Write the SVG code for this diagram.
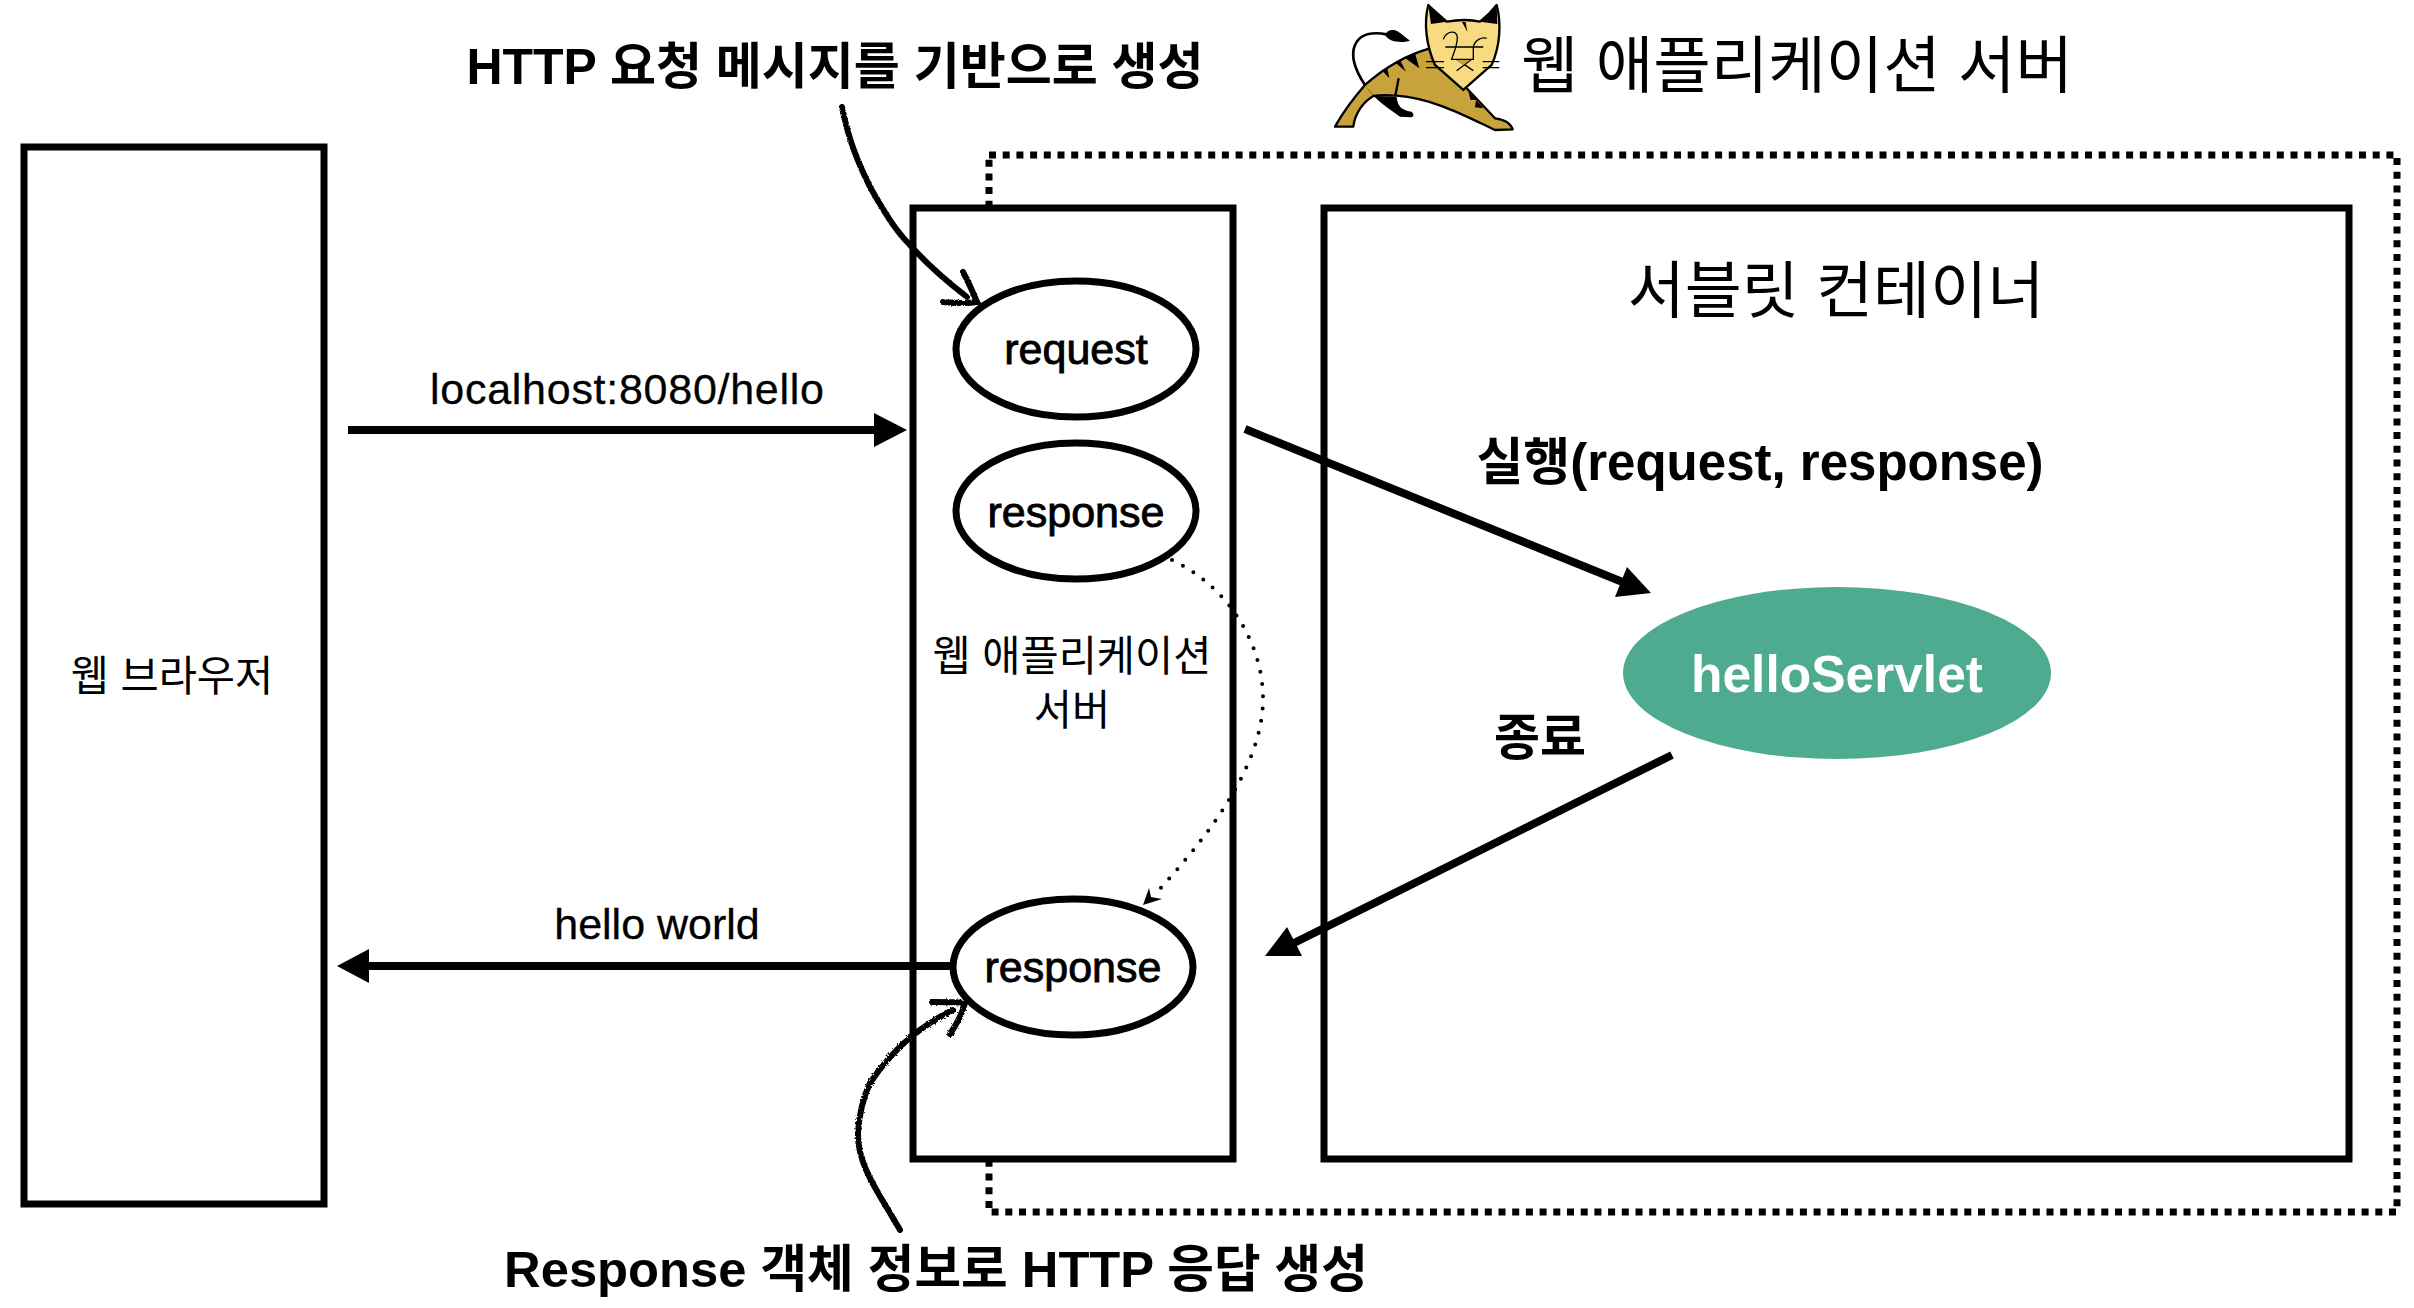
<svg xmlns="http://www.w3.org/2000/svg" width="2414" height="1308" viewBox="0 0 2414 1308">
<style>
text{font-family:"Liberation Sans","Noto Sans CJK KR",sans-serif;fill:#000;text-anchor:middle}
.box{fill:#fff;stroke:#000;stroke-width:7}
.el{fill:#fff;stroke:#000;stroke-width:7}
.t{font-size:41.5px}
.b{font-size:50px;font-weight:bold}
.e{font-size:43px;stroke:#000;stroke-width:.9px}
.l{font-size:43px;stroke:#000;stroke-width:.3px}
.conn{fill:none;stroke:#000;stroke-width:8}
.head{fill:#000}
.sketch{fill:none;stroke:#000;stroke-width:6;stroke-linecap:round;filter:url(#rough)}
</style>
<defs>
<filter id="rough" x="-20%" y="-20%" width="140%" height="140%"><feTurbulence type="fractalNoise" baseFrequency="0.6" numOctaves="2" seed="3"/><feDisplacementMap in="SourceGraphic" scale="3"/></filter>
</defs>
<g id="server-outline"><rect x="989" y="155" width="1408" height="1057" fill="none" stroke="#000" stroke-width="7" stroke-dasharray="7 6.7"/></g>
<g id="browser"><rect class="box" x="24" y="147" width="300" height="1057"/><text class="t" x="172" y="691">웹 브라우저</text></g>
<g id="was"><rect class="box" x="913" y="208" width="320" height="951"/><text class="t" x="1072" y="671">웹 애플리케이션</text><text class="t" x="1072" y="725">서버</text></g>
<g id="container"><rect class="box" x="1324" y="208" width="1025" height="951"/><text x="1836" y="313" font-size="62">서블릿 컨테이너</text></g>
<g id="request"><ellipse class="el" cx="1076" cy="349" rx="120" ry="68"/><text class="e" x="1076" y="364">request</text></g>
<g id="response1"><ellipse class="el" cx="1076" cy="511" rx="120" ry="68"/><text class="e" x="1076" y="527">response</text></g>
<g id="response2"><ellipse class="el" cx="1073" cy="967" rx="120" ry="68"/><text class="e" x="1073" y="982">response</text></g>
<g id="helloServlet"><ellipse cx="1837" cy="673" rx="214" ry="86" fill="#4fab8f"/><text x="1837" y="692" font-size="51.5" font-weight="bold" style="fill:#fff">helloServlet</text></g>
<g id="tomcat" transform="translate(1300 0) scale(.3333)">
<path d="M105 380C130 335 160 295 195 255C240 215 300 170 390 145L505 270L585 355C610 358 630 365 638 388L585 390C500 350 400 295 290 287C260 285 240 285 220 288C190 305 165 340 160 380Z" fill="#c8a33c" stroke="#000" stroke-width="7" stroke-linejoin="round"/>
<path d="M197 258L222 288L290 290C293 315 300 330 335 335C345 345 340 352 330 352L300 350C265 325 225 300 197 258Z" fill="#000"/>
<path d="M296 235L286 287" stroke="#000" stroke-width="7" fill="none"/>
<path d="M245 210L262 205L268 235ZM285 187L300 180L318 215ZM312 172L345 160L358 205ZM505 275L530 300L512 300ZM528 300L550 325L525 322Z" fill="#000"/>
<path d="M385 15C405 35 425 50 440 65C480 58 510 58 540 65C560 50 575 35 590 15C605 70 600 140 575 195L490 270L405 195C380 140 370 70 385 15Z" fill="#f8da80" stroke="#000" stroke-width="7" stroke-linejoin="round"/>
<path d="M385 15L440 65L393 72ZM590 15L540 65L592 72ZM486 66L497 66L502 95Z" fill="#000"/>
<path d="M378 185H432M378 203H432M548 185H598M548 203H598M436 141H550M430 118C440 90 472 90 472 112C472 140 460 160 455 178L520 178L520 140C525 120 545 110 560 115M470 178L520 212M515 178L470 212" stroke="#000" stroke-width="4" fill="none"/>
<path d="M470 180H510L490 195Z" fill="#c8a33c"/>
<path d="M195 255C165 210 150 170 165 135C180 100 220 95 260 103" stroke="#000" stroke-width="8" fill="none"/>
<path d="M255 105C260 90 280 85 295 95C310 105 320 115 330 122C310 128 270 130 255 105Z" fill="#000"/>
</g>
<g id="connectors">
<path class="conn" d="M348 430H876"/><path class="head" d="M907 430L874 413V447Z"/>
<path class="conn" d="M1245 429L1625 583"/><path class="head" d="M1651 593L1615 597L1627 567Z"/>
<path class="conn" d="M1672 755L1290 945"/><path class="head" d="M1265 956L1287 927L1302 956Z"/>
<path class="conn" d="M953 966H367"/><path class="head" d="M337 966L369 949V983Z"/>
<path d="M1172 560C1225 585 1263 640 1263 699C1263 770 1200 845 1157 892" fill="none" stroke="#000" stroke-width="4" stroke-linecap="round" stroke-dasharray="0 12.3"/>
<path class="head" d="M1143 905L1149 888L1151 897L1162 899Z"/>
<path class="sketch" d="M842 107C850 147 862 170 870 187C885 213 895 230 910 245C925 262 945 280 967 297"/>
<path class="sketch" d="M963 272C970 285 974 295 977 302C965 304 955 303 943 302"/>
<path class="sketch" d="M900 1230C880 1195 857 1165 858 1133C859 1115 862 1100 870 1083C880 1068 895 1050 913 1035C925 1026 940 1016 953 1010"/>
<path class="sketch" d="M932 1002C945 1002 955 1002 965 1003C962 1015 956 1025 950 1034"/>
</g>
<g id="labels">
<text class="l" x="627" y="404" textLength="394" lengthAdjust="spacing">localhost:8080/hello</text>
<text class="l" x="657" y="939">hello world</text>
<text class="b" x="835" y="84">HTTP 요청 메시지를 기반으로 생성</text>
<text x="1797" y="88" font-size="62.5">웹 애플리케이션 서버</text>
<text class="b" x="1760" y="480" style="font-size:51px">실행(request, response)</text>
<text class="b" x="1540" y="755">종료</text>
<text class="b" x="936" y="1287" style="font-size:50.7px">Response 객체 정보로 HTTP 응답 생성</text>
</g>
</svg>
